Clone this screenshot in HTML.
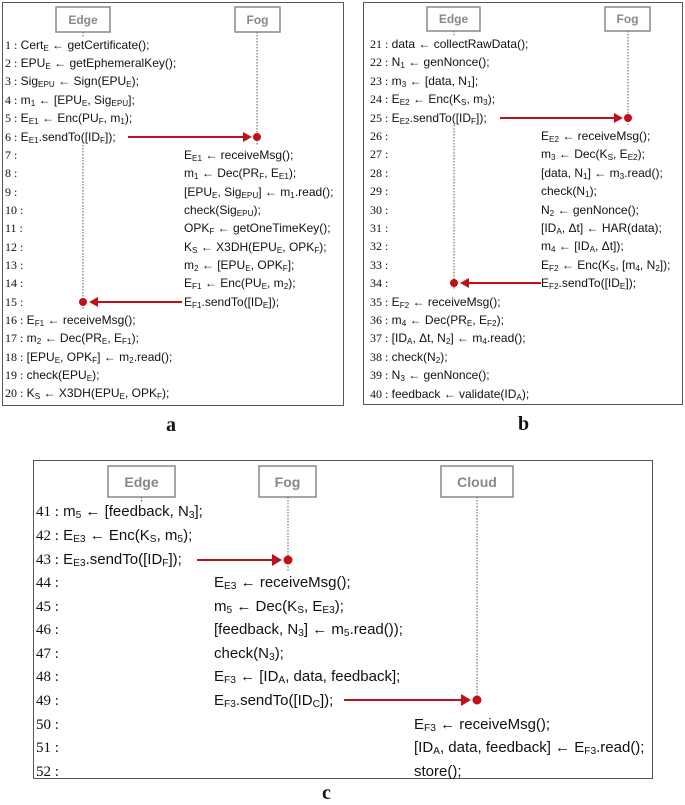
<!DOCTYPE html>
<html><head><meta charset="utf-8"><style>
body{margin:0;width:685px;height:803px;background:#fff;position:relative;overflow:hidden;font-family:"Liberation Sans",sans-serif;color:#111}
.l{position:absolute;white-space:nowrap;font-size:12px;line-height:16px}
.c{font-size:15px;line-height:20px}
.n{font-family:"Liberation Serif",serif}
sub{font-size:68%;vertical-align:-2px;line-height:0}
.lab{position:absolute;font-family:"Liberation Serif",serif;font-weight:bold;font-size:20px}
svg{position:absolute;left:0;top:0}
</style></head><body>
<svg width="685" height="803">
<g fill="none" stroke="#555" stroke-width="1">
<rect x="2.5" y="2.5" width="341" height="403"/>
<rect x="363.5" y="2.5" width="319" height="402"/>
<rect x="33.5" y="460.5" width="619" height="318"/>
</g>
<g fill="#fff" stroke="#888" stroke-width="1.5">
<rect x="56" y="7" width="54" height="25"/><rect x="235" y="7" width="45" height="25"/>
<rect x="427" y="7" width="53" height="24"/><rect x="605" y="7" width="45" height="24"/>
<rect x="108" y="466" width="67" height="31"/><rect x="259" y="466" width="57" height="31"/><rect x="441" y="466" width="72" height="31"/>
</g>
<g fill="#888" font-family="Liberation Sans,sans-serif" font-weight="bold" text-anchor="middle">
<text x="83" y="24" font-size="12">Edge</text><text x="257.5" y="24" font-size="12">Fog</text>
<text x="453.5" y="23" font-size="12">Edge</text><text x="627.5" y="23" font-size="12">Fog</text>
<text x="141.5" y="487" font-size="14">Edge</text><text x="287.5" y="487" font-size="14">Fog</text><text x="477" y="487" font-size="14">Cloud</text>
</g>
<g stroke="#777" stroke-width="1.2" stroke-dasharray="1.5 1.5" fill="none">
<path d="M83 32V37M83 142V310M257 32V145"/>
<path d="M454 31V35M454 125V290M628 31V125"/>
<path d="M141.5 497V502M288 497V572M477 497V700"/>
</g>
<g stroke="#c0101a" stroke-width="2" fill="#c0101a">
<path d="M128 137H244"/><path d="M243 132L252 137L243 142Z" stroke="none"/><circle cx="257" cy="137" r="4" stroke="none"/>
<path d="M97 302H182"/><path d="M98 297L89 302L98 307Z" stroke="none"/><circle cx="83" cy="302" r="4" stroke="none"/>
<path d="M500 118H615"/><path d="M614 113L623 118L614 123Z" stroke="none"/><circle cx="628" cy="118" r="4" stroke="none"/>
<path d="M468 283H541"/><path d="M469 278L460 283L469 288Z" stroke="none"/><circle cx="454" cy="283" r="4" stroke="none"/>
<path d="M197 560H273"/><path d="M272 554L282 560L272 566Z" stroke="none"/><circle cx="288" cy="560" r="4.5" stroke="none"/>
<path d="M344 700H462"/><path d="M461 694L471 700L461 706Z" stroke="none"/><circle cx="477" cy="700" r="4.5" stroke="none"/>
</g>
</svg>

<!-- Panel a -->
<div class="l" style="left:5px;top:37px"><span class="n">1 :</span> Cert<sub>E</sub> ← getCertificate();</div>
<div class="l" style="left:5px;top:55px"><span class="n">2 :</span> EPU<sub>E</sub> ← getEphemeralKey();</div>
<div class="l" style="left:5px;top:73px"><span class="n">3 :</span> Sig<sub>EPU</sub> ← Sign(EPU<sub>E</sub>);</div>
<div class="l" style="left:5px;top:92px"><span class="n">4 :</span> m<sub>1</sub> ← [EPU<sub>E</sub>, Sig<sub>EPU</sub>];</div>
<div class="l" style="left:5px;top:110px"><span class="n">5 :</span> E<sub>E1</sub> ← Enc(PU<sub>F</sub>, m<sub>1</sub>);</div>
<div class="l" style="left:5px;top:129px"><span class="n">6 :</span> E<sub>E1</sub>.sendTo([ID<sub>F</sub>]);</div>
<div class="l n" style="left:5px;top:147px">7 :</div>
<div class="l n" style="left:5px;top:165px">8 :</div>
<div class="l n" style="left:5px;top:184px">9 :</div>
<div class="l n" style="left:5px;top:202px">10 :</div>
<div class="l n" style="left:5px;top:220px">11 :</div>
<div class="l n" style="left:5px;top:239px">12 :</div>
<div class="l n" style="left:5px;top:257px">13 :</div>
<div class="l n" style="left:5px;top:275px">14 :</div>
<div class="l n" style="left:5px;top:294px">15 :</div>
<div class="l" style="left:184px;top:147px">E<sub>E1</sub> ← receiveMsg();</div>
<div class="l" style="left:184px;top:165px">m<sub>1</sub> ← Dec(PR<sub>F</sub>, E<sub>E1</sub>);</div>
<div class="l" style="left:184px;top:184px">[EPU<sub>E</sub>, Sig<sub>EPU</sub>] ← m<sub>1</sub>.read();</div>
<div class="l" style="left:184px;top:202px">check(Sig<sub>EPU</sub>);</div>
<div class="l" style="left:184px;top:220px">OPK<sub>F</sub> ← getOneTimeKey();</div>
<div class="l" style="left:184px;top:239px">K<sub>S</sub> ← X3DH(EPU<sub>E</sub>, OPK<sub>F</sub>);</div>
<div class="l" style="left:184px;top:257px">m<sub>2</sub> ← [EPU<sub>E</sub>, OPK<sub>F</sub>];</div>
<div class="l" style="left:184px;top:275px">E<sub>F1</sub> ← Enc(PU<sub>E</sub>, m<sub>2</sub>);</div>
<div class="l" style="left:184px;top:294px">E<sub>F1</sub>.sendTo([ID<sub>E</sub>]);</div>
<div class="l" style="left:5px;top:312px"><span class="n">16 :</span> E<sub>F1</sub> ← receiveMsg();</div>
<div class="l" style="left:5px;top:330px"><span class="n">17 :</span> m<sub>2</sub> ← Dec(PR<sub>E</sub>, E<sub>F1</sub>);</div>
<div class="l" style="left:5px;top:349px"><span class="n">18 :</span> [EPU<sub>E</sub>, OPK<sub>F</sub>] ← m<sub>2</sub>.read();</div>
<div class="l" style="left:5px;top:367px"><span class="n">19 :</span> check(EPU<sub>E</sub>);</div>
<div class="l" style="left:5px;top:385px"><span class="n">20 :</span> K<sub>S</sub> ← X3DH(EPU<sub>E</sub>, OPK<sub>F</sub>);</div>
<div class="lab" style="left:166px;top:414px">a</div>

<!-- Panel b -->
<div class="l" style="left:370px;top:36px"><span class="n">21 :</span> data ← collectRawData();</div>
<div class="l" style="left:370px;top:54px"><span class="n">22 :</span> N<sub>1</sub> ← genNonce();</div>
<div class="l" style="left:370px;top:73px"><span class="n">23 :</span> m<sub>3</sub> ← [data, N<sub>1</sub>];</div>
<div class="l" style="left:370px;top:91px"><span class="n">24 :</span> E<sub>E2</sub> ← Enc(K<sub>S</sub>, m<sub>3</sub>);</div>
<div class="l" style="left:370px;top:110px"><span class="n">25 :</span> E<sub>E2</sub>.sendTo([ID<sub>F</sub>]);</div>
<div class="l n" style="left:370px;top:128px">26 :</div>
<div class="l n" style="left:370px;top:146px">27 :</div>
<div class="l n" style="left:370px;top:165px">28 :</div>
<div class="l n" style="left:370px;top:183px">29 :</div>
<div class="l n" style="left:370px;top:202px">30 :</div>
<div class="l n" style="left:370px;top:220px">31 :</div>
<div class="l n" style="left:370px;top:238px">32 :</div>
<div class="l n" style="left:370px;top:257px">33 :</div>
<div class="l n" style="left:370px;top:275px">34 :</div>
<div class="l" style="left:541px;top:128px">E<sub>E2</sub> ← receiveMsg();</div>
<div class="l" style="left:541px;top:146px">m<sub>3</sub> ← Dec(K<sub>S</sub>, E<sub>E2</sub>);</div>
<div class="l" style="left:541px;top:165px">[data, N<sub>1</sub>] ← m<sub>3</sub>.read();</div>
<div class="l" style="left:541px;top:183px">check(N<sub>1</sub>);</div>
<div class="l" style="left:541px;top:202px">N<sub>2</sub> ← genNonce();</div>
<div class="l" style="left:541px;top:220px">[ID<sub>A</sub>, Δt] ← HAR(data);</div>
<div class="l" style="left:541px;top:238px">m<sub>4</sub> ← [ID<sub>A</sub>, Δt]);</div>
<div class="l" style="left:541px;top:257px">E<sub>F2</sub> ← Enc(K<sub>S</sub>, [m<sub>4</sub>, N<sub>2</sub>]);</div>
<div class="l" style="left:541px;top:275px">E<sub>F2</sub>.sendTo([ID<sub>E</sub>]);</div>
<div class="l" style="left:370px;top:294px"><span class="n">35 :</span> E<sub>F2</sub> ← receiveMsg();</div>
<div class="l" style="left:370px;top:312px"><span class="n">36 :</span> m<sub>4</sub> ← Dec(PR<sub>E</sub>, E<sub>F2</sub>);</div>
<div class="l" style="left:370px;top:330px"><span class="n">37 :</span> [ID<sub>A</sub>, Δt, N<sub>2</sub>] ← m<sub>4</sub>.read();</div>
<div class="l" style="left:370px;top:349px"><span class="n">38 :</span> check(N<sub>2</sub>);</div>
<div class="l" style="left:370px;top:367px"><span class="n">39 :</span> N<sub>3</sub> ← genNonce();</div>
<div class="l" style="left:370px;top:386px"><span class="n">40 :</span> feedback ← validate(ID<sub>A</sub>);</div>
<div class="lab" style="left:518px;top:413px">b</div>

<!-- Panel c -->
<div class="l c" style="left:36px;top:502px"><span class="n">41 :</span> m<sub>5</sub> ← [feedback, N<sub>3</sub>];</div>
<div class="l c" style="left:36px;top:526px"><span class="n">42 :</span> E<sub>E3</sub> ← Enc(K<sub>S</sub>, m<sub>5</sub>);</div>
<div class="l c" style="left:36px;top:550px"><span class="n">43 :</span> E<sub>E3</sub>.sendTo([ID<sub>F</sub>]);</div>
<div class="l c n" style="left:36px;top:573px">44 :</div>
<div class="l c n" style="left:36px;top:597px">45 :</div>
<div class="l c n" style="left:36px;top:620px">46 :</div>
<div class="l c n" style="left:36px;top:644px">47 :</div>
<div class="l c n" style="left:36px;top:667px">48 :</div>
<div class="l c n" style="left:36px;top:691px">49 :</div>
<div class="l c n" style="left:36px;top:715px">50 :</div>
<div class="l c n" style="left:36px;top:738px">51 :</div>
<div class="l c n" style="left:36px;top:762px">52 :</div>
<div class="l c" style="left:214px;top:573px">E<sub>E3</sub> ← receiveMsg();</div>
<div class="l c" style="left:214px;top:597px">m<sub>5</sub> ← Dec(K<sub>S</sub>, E<sub>E3</sub>);</div>
<div class="l c" style="left:214px;top:620px">[feedback, N<sub>3</sub>] ← m<sub>5</sub>.read());</div>
<div class="l c" style="left:214px;top:644px">check(N<sub>3</sub>);</div>
<div class="l c" style="left:214px;top:667px">E<sub>F3</sub> ← [ID<sub>A</sub>, data, feedback];</div>
<div class="l c" style="left:214px;top:691px">E<sub>F3</sub>.sendTo([ID<sub>C</sub>]);</div>
<div class="l c" style="left:414px;top:715px">E<sub>F3</sub> ← receiveMsg();</div>
<div class="l c" style="left:414px;top:738px">[ID<sub>A</sub>, data, feedback] ← E<sub>F3</sub>.read();</div>
<div class="l c" style="left:414px;top:762px">store();</div>
<div class="lab" style="left:322px;top:782px">c</div>
</body></html>
